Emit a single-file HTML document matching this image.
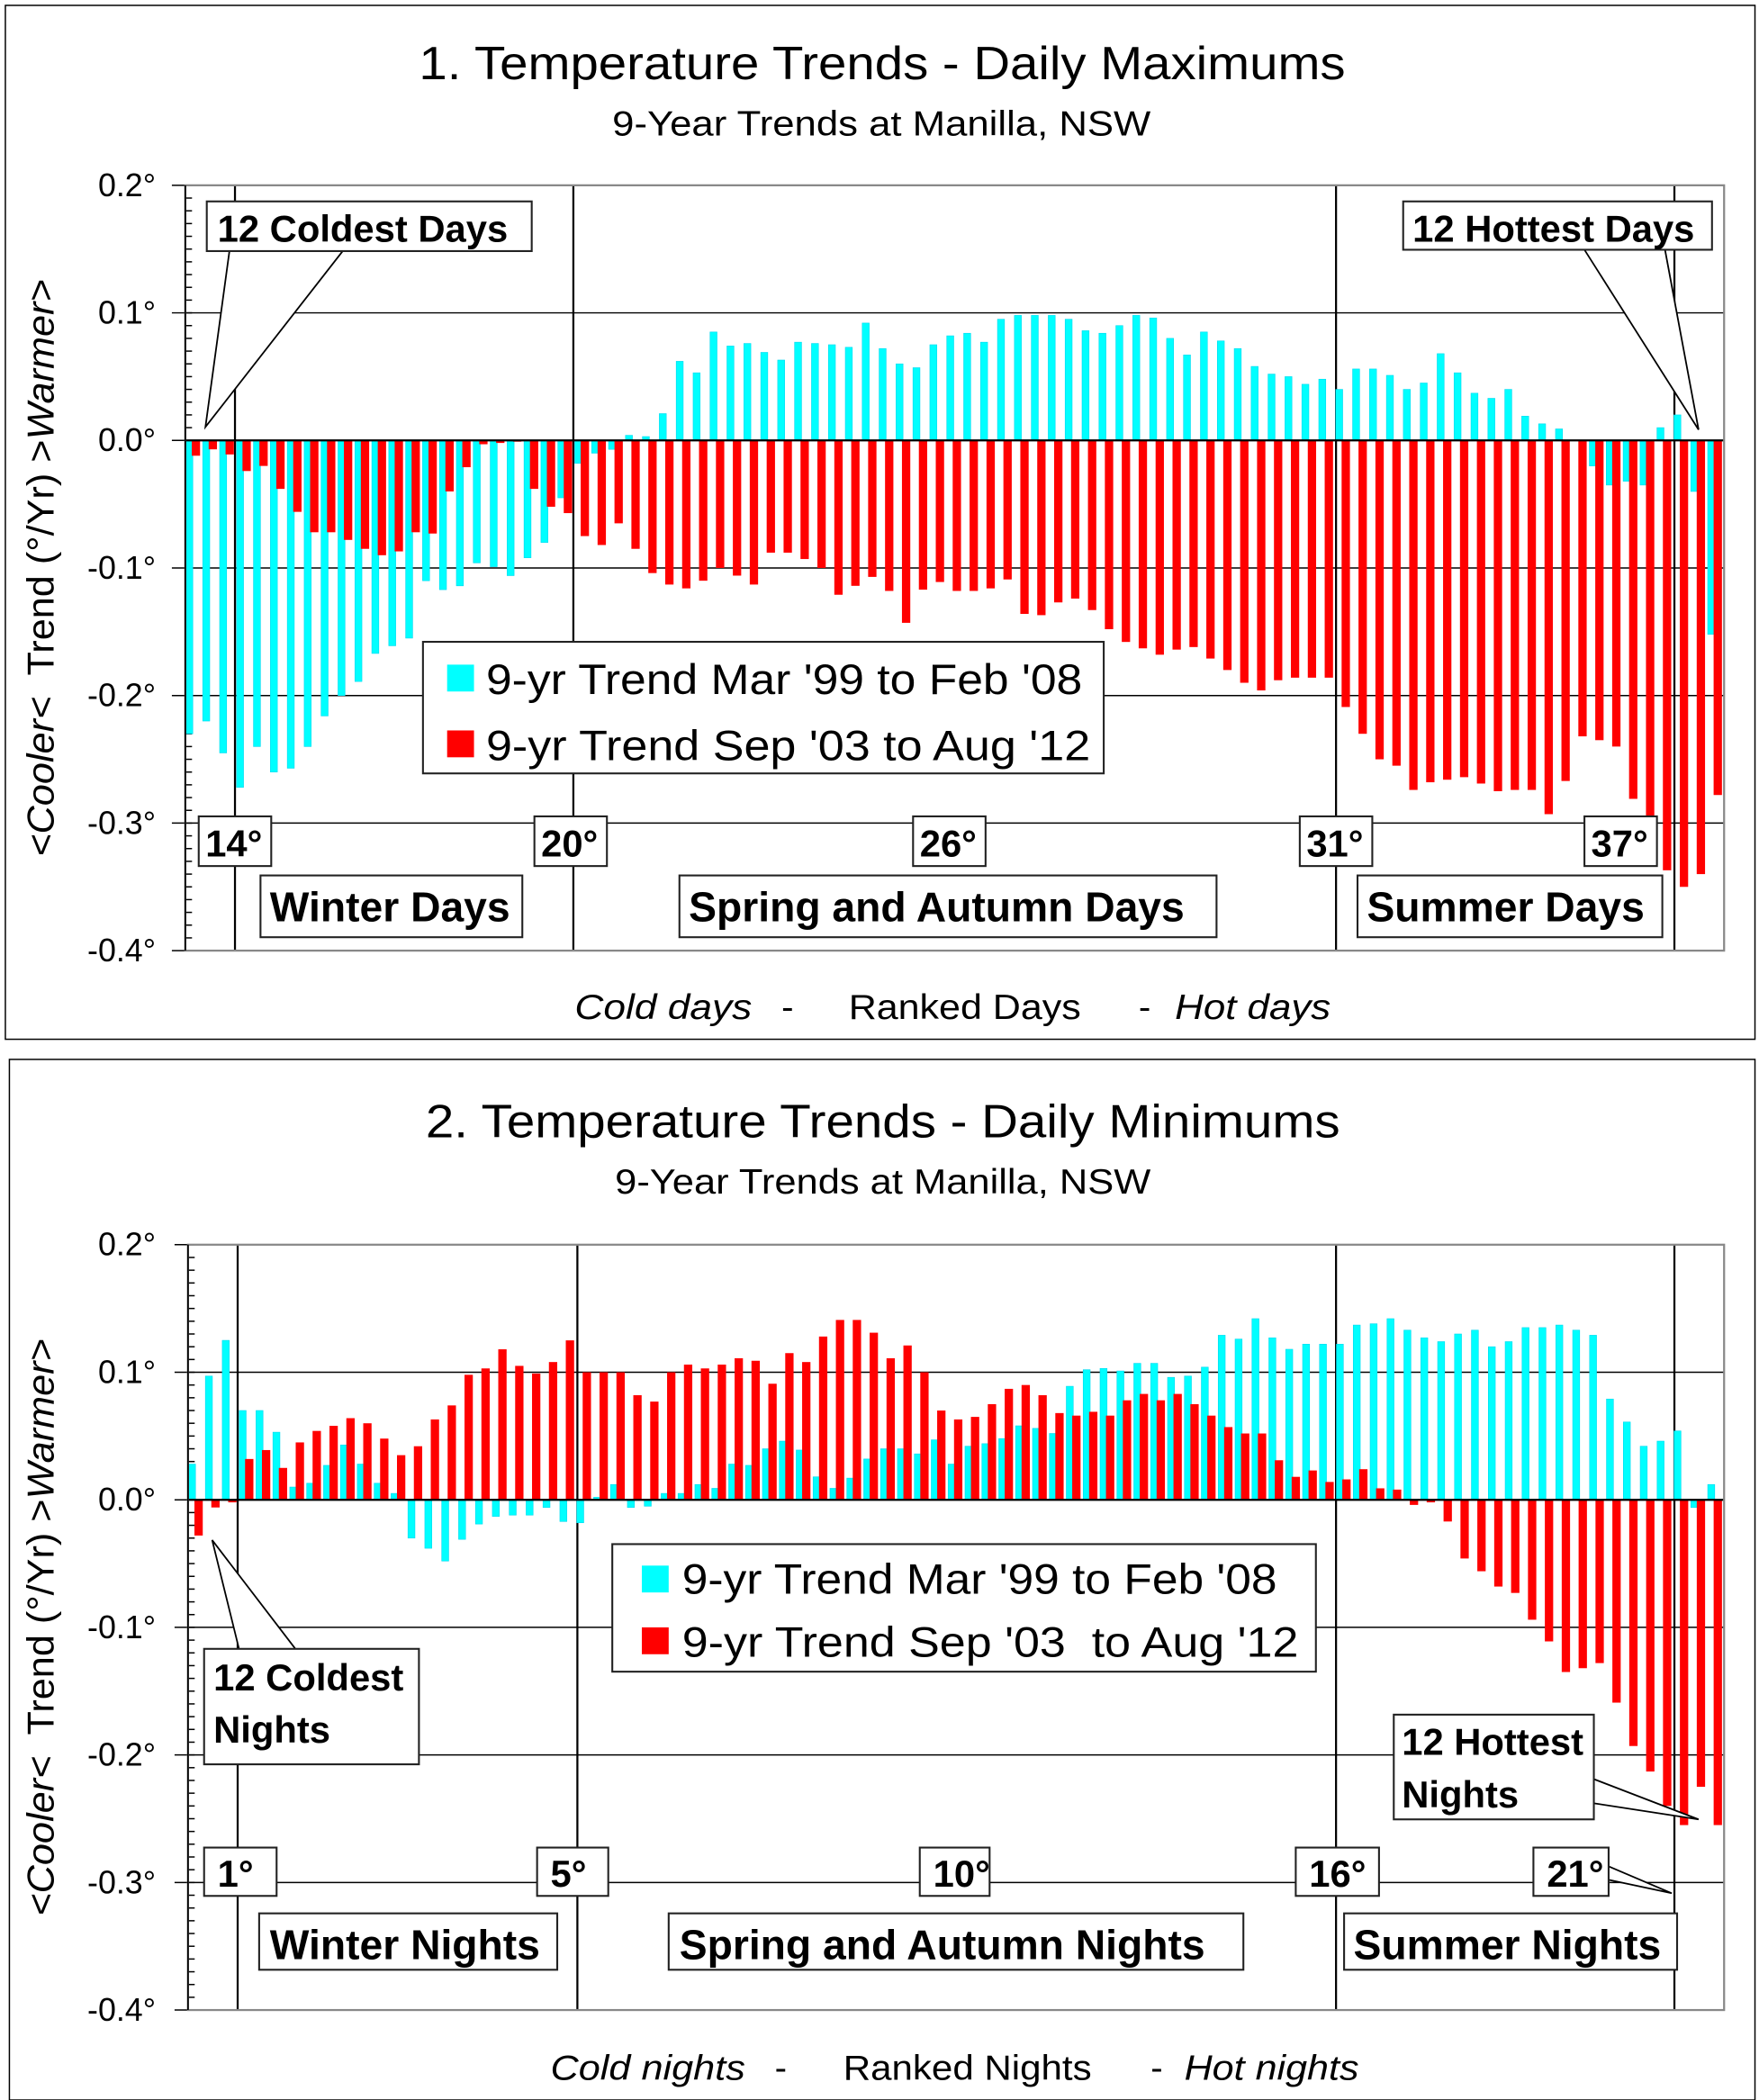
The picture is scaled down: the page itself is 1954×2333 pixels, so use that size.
<!DOCTYPE html>
<html><head><meta charset="utf-8"><style>
html,body{margin:0;padding:0;background:#fff}
svg{display:block}
text{font-family:"Liberation Sans",Arial,sans-serif;fill:#000}
</style></head><body>
<svg id="s" xmlns="http://www.w3.org/2000/svg" width="1954" height="2333" viewBox="0 0 1310 1564" preserveAspectRatio="none">
<rect x="0" y="0" width="1310" height="1564" fill="#fff"/>
<g id="c1"></g><g id="c2"></g>
</svg>
<script>
var NS="http://www.w3.org/2000/svg";
function el(p,t,a,txt){var e=document.createElementNS(NS,t);for(var k in a)e.setAttribute(k,a[k]);if(txt!==undefined)e.textContent=txt;p.appendChild(e);return e;}
var cy1=[-0.23,-0.22,-0.245,-0.272,-0.24,-0.26,-0.257,-0.24,-0.216,-0.2,-0.189,-0.167,-0.161,-0.155,-0.11,-0.117,-0.114,-0.096,-0.099,-0.106,-0.092,-0.08,-0.045,-0.018,-0.01,-0.007,0.004,0.003,0.021,0.062,0.053,0.085,0.074,0.076,0.069,0.063,0.077,0.076,0.075,0.073,0.092,0.072,0.06,0.057,0.075,0.082,0.084,0.077,0.095,0.098,0.098,0.098,0.095,0.086,0.084,0.09,0.098,0.096,0.08,0.067,0.085,0.078,0.072,0.058,0.052,0.05,0.044,0.048,0.04,0.056,0.056,0.051,0.04,0.045,0.068,0.053,0.037,0.033,0.04,0.019,0.013,0.009,0,-0.02,-0.035,-0.032,-0.035,0.01,0.02,-0.04,-0.152];
var rd1=[-0.012,-0.007,-0.011,-0.024,-0.02,-0.038,-0.056,-0.072,-0.072,-0.078,-0.085,-0.09,-0.087,-0.072,-0.073,-0.04,-0.021,-0.003,-0.002,-0.001,-0.038,-0.052,-0.057,-0.075,-0.082,-0.065,-0.085,-0.104,-0.113,-0.116,-0.11,-0.1,-0.106,-0.113,-0.088,-0.088,-0.093,-0.1,-0.121,-0.114,-0.107,-0.118,-0.143,-0.117,-0.111,-0.118,-0.118,-0.116,-0.109,-0.136,-0.137,-0.127,-0.124,-0.133,-0.148,-0.158,-0.163,-0.168,-0.164,-0.162,-0.171,-0.18,-0.19,-0.196,-0.188,-0.186,-0.186,-0.186,-0.209,-0.23,-0.25,-0.255,-0.274,-0.268,-0.266,-0.264,-0.269,-0.275,-0.274,-0.274,-0.293,-0.267,-0.232,-0.235,-0.24,-0.281,-0.3,-0.337,-0.35,-0.34,-0.278];
var cy2=[0.028,0.097,0.125,0.07,0.07,0.053,0.01,0.013,0.027,0.043,0.028,0.013,0.005,-0.03,-0.038,-0.048,-0.031,-0.019,-0.013,-0.012,-0.012,-0.006,-0.017,-0.018,0.002,0.012,-0.006,-0.005,0.005,0.005,0.012,0.009,0.028,0.027,0.04,0.046,0.039,0.018,0.009,0.017,0.032,0.04,0.04,0.036,0.047,0.028,0.042,0.044,0.048,0.058,0.056,0.052,0.089,0.102,0.103,0.101,0.107,0.107,0.096,0.097,0.104,0.129,0.126,0.142,0.127,0.118,0.122,0.122,0.122,0.137,0.138,0.142,0.133,0.127,0.124,0.13,0.133,0.12,0.124,0.135,0.135,0.137,0.133,0.129,0.079,0.061,0.042,0.046,0.054,-0.006,0.012];
var rd2=[-0.028,-0.006,-0.002,0.032,0.039,0.025,0.045,0.054,0.058,0.064,0.06,0.048,0.035,0.042,0.063,0.074,0.098,0.103,0.118,0.105,0.099,0.108,0.125,0.1,0.1,0.1,0.082,0.077,0.1,0.106,0.103,0.106,0.111,0.109,0.091,0.115,0.108,0.128,0.141,0.141,0.131,0.111,0.121,0.1,0.07,0.063,0.065,0.075,0.087,0.09,0.082,0.068,0.066,0.069,0.066,0.078,0.083,0.078,0.083,0.075,0.066,0.057,0.052,0.052,0.031,0.018,0.023,0.014,0.016,0.024,0.009,0.008,-0.004,-0.002,-0.017,-0.046,-0.056,-0.068,-0.073,-0.094,-0.111,-0.135,-0.132,-0.128,-0.159,-0.193,-0.213,-0.24,-0.255,-0.225,-0.255];

function box(g,x,y,w,h){el(g,"rect",{x:x,y:y,width:w,height:h,fill:"#fff",stroke:"#222","stroke-width":1.4});}
function tl(g,x,y,fs,w,txt,extra){var a={x:x,y:y,"font-size":fs,textLength:w,lengthAdjust:"spacingAndGlyphs"};for(var k in extra)a[k]=extra[k];return el(g,"text",a,txt);}

function chart(g,o){
  var x0=o.x0,x1=o.x1,yT=o.yT,yB=o.yB,u=(yB-yT)/0.6,y0=yT+0.2*u;
  function Y(v){return y0-v*u;}
  el(g,"rect",{x:o.fx,y:o.fy,width:o.fw,height:o.fh,fill:"#fff",stroke:"#000","stroke-width":1});
  tl(g,o.tx[0],o.ty,35,o.tx[1],o.title);
  tl(g,o.sx[0],o.ty+42,26,o.sx[1],"9-Year Trends at Manilla, NSW");
  for(var k=0;k<7;k++){var yy=yT+k*0.1*u;
    el(g,"line",{x1:x0-10,x2:x1,y1:yy,y2:yy,stroke:"#000","stroke-width":1});
    var lab=(0.2-k*0.1).toFixed(1)+"°"; if(lab=="-0.0°")lab="0.0°";
    el(g,"text",{x:116,y:yy+8,"font-size":24,"text-anchor":"end"},lab);}
  for(var m=0;m<=60;m++){var yy=yT+m*0.01*u;el(g,"line",{x1:x0,x2:x0+5,y1:yy,y2:yy,stroke:"#000","stroke-width":1});}
  o.div.forEach(function(d){el(g,"line",{x1:d,x2:d,y1:yT,y2:yB,stroke:"#000","stroke-width":1.5});});
  var pw=(x1-x0)/91;
  for(var i=0;i<91;i++){var bx=x0+i*pw;
    var c=o.cy[i],r=o.rd[i];
    el(g,"rect",{x:bx+0.4,y:Math.min(Y(c),y0),width:5.2,height:Math.abs(c*u),fill:"#00FFFF",stroke:"#00D8F0","stroke-width":0.4});
    el(g,"rect",{x:bx+4.8,y:Math.min(Y(r),y0),width:6.2,height:Math.abs(r*u),fill:"#FF0000"});}
  el(g,"line",{x1:x0,x2:x1,y1:y0,y2:y0,stroke:"#000","stroke-width":1.5});
  el(g,"rect",{x:x0,y:yT,width:x1-x0,height:yB-yT,fill:"none",stroke:"#888","stroke-width":1.5});
  el(g,"line",{x1:x0,x2:x0,y1:yT,y2:yB,stroke:"#000","stroke-width":1.2});
  var t=el(g,"text",{transform:"translate(40,"+((yT+yB)/2)+") rotate(-90)","font-size":28,"text-anchor":"middle",textLength:430,lengthAdjust:"spacingAndGlyphs"});
  el(t,"tspan",{"font-style":"italic"},"<Cooler<");el(t,"tspan",{},"\u00a0 Trend (°/Yr) >");el(t,"tspan",{"font-style":"italic"},"Warmer>");
  o.xl.forEach(function(a){tl(g,a[0],o.xly,26,a[1],a[2],a[3]?{"font-style":"italic"}:{});});
}
var g1=document.getElementById("c1"),g2=document.getElementById("c2");
chart(g1,{x0:138,x1:1284,yT:138,yB:708,fx:4,fy:4,fw:1303,fh:770,ty:59,tx:[312,690],sx:[456,401],title:"1. Temperature Trends - Daily Maximums",
 div:[175,427,995,1247],cy:cy1,rd:rd1,xly:759,
 xl:[[428,132,"Cold days",1],[582,9,"-"],[632,173,"Ranked Days"],[848,9,"-"],[875,116,"Hot days",1]]});
chart(g2,{x0:140,x1:1284,yT:927,yB:1497,fx:7,fy:789,fw:1300,fh:775,ty:847,tx:[317,681],sx:[458,399],title:"2. Temperature Trends - Daily Minimums",
 div:[177,430,995,1247],cy:cy2,rd:rd2,xly:1549,
 xl:[[410,145,"Cold nights",1],[577,9,"-"],[628,185,"Ranked Nights"],[857,9,"-"],[882,130,"Hot nights",1]]});

function lbl(g,x,y,w,h,txt,fs,tx,ty){box(g,x,y,w,h);el(g,"text",{x:tx,y:ty,"font-size":fs,"font-weight":"bold"},txt);}
function poly(g,pts){el(g,"polyline",{points:pts,fill:"#fff",stroke:"#000","stroke-width":1.2});}
poly(g1,"171,186 153,318 256,186");
lbl(g1,154,150,242,37,"12 Coldest Days",28,162,180);
poly(g1,"1180,186 1265,320 1240,186");
lbl(g1,1045,150,230,36,"12 Hottest Days",28,1052,180);
box(g1,315,478,507,98);
el(g1,"rect",{x:333,y:495,width:20,height:20,fill:"#00FFFF"});
el(g1,"rect",{x:333,y:544,width:20,height:20,fill:"#FF0000"});
tl(g1,362,517,32,444,"9-yr Trend Mar '99 to Feb '08");
tl(g1,362,566,32,450,"9-yr Trend Sep '03 to Aug '12");
[[148,"14°"],[398,"20°"],[680,"26°"],[968,"31°"],[1180,"37°"]].forEach(function(a){lbl(g1,a[0],608,54,37,a[1],28,a[0]+5,638);});
lbl(g1,194,652,195,46,"Winter Days",31,201,686);
lbl(g1,506,652,400,46,"Spring and Autumn Days",31,513,686);
lbl(g1,1011,652,227,46,"Summer Days",31,1018,686);
poly(g2,"178,1228 158,1147 220,1228");
box(g2,152,1228,160,86);
el(g2,"text",{x:159,y:1259,"font-size":28,"font-weight":"bold"},"12 Coldest");
el(g2,"text",{x:159,y:1298,"font-size":28,"font-weight":"bold"},"Nights");
poly(g2,"1187,1325 1265,1355 1187,1343");
box(g2,1038,1277,149,78);
el(g2,"text",{x:1044,y:1307,"font-size":28,"font-weight":"bold"},"12 Hottest");
el(g2,"text",{x:1044,y:1346,"font-size":28,"font-weight":"bold"},"Nights");
box(g2,456,1150,524,95);
el(g2,"rect",{x:478,y:1166,width:20,height:20,fill:"#00FFFF"});
el(g2,"rect",{x:478,y:1212,width:20,height:20,fill:"#FF0000"});
tl(g2,508,1187,32,443,"9-yr Trend Mar '99 to Feb '08");
tl(g2,508,1234,32,459,"9-yr Trend Sep '03\u00a0 to Aug '12");
poly(g2,"1198,1400 1245,1410 1198,1390");
[[152,"1°",54],[400,"5°",53],[685,"10°",52],[965,"16°",62],[1142,"21°",56]].forEach(function(a){lbl(g2,a[0],1376,a[2],36,a[1],28,a[0]+10,1405);});
lbl(g2,193,1425,222,42,"Winter Nights",31,201,1459);
lbl(g2,498,1425,428,42,"Spring and Autumn Nights",31,506,1459);
lbl(g2,1001,1425,248,42,"Summer Nights",31,1008,1459);
</script>
</body></html>
